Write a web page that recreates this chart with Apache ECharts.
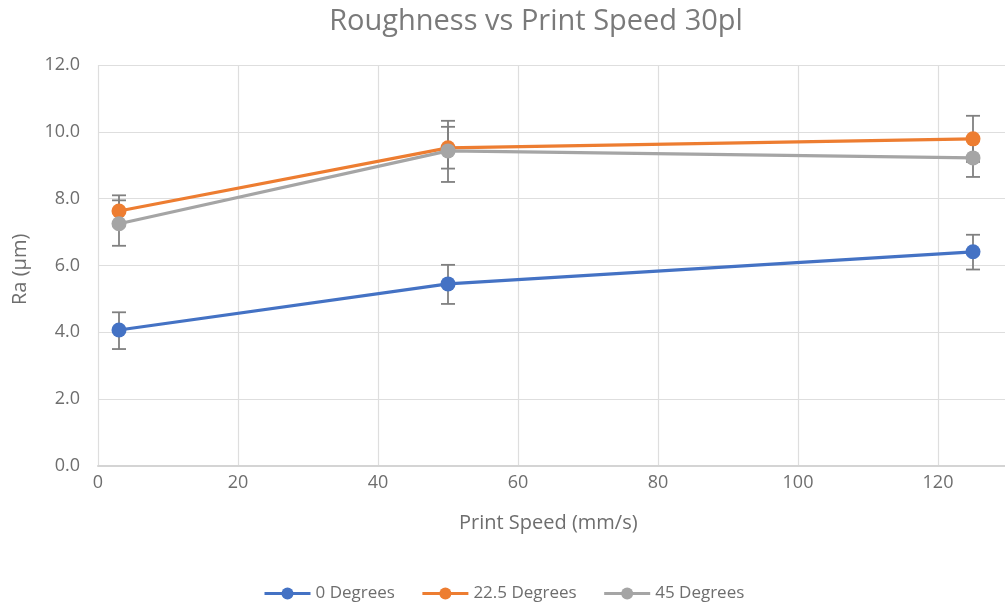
<!DOCTYPE html>
<html>
<head>
<meta charset="utf-8">
<script src="https://cdn.jsdelivr.net/npm/echarts@6/dist/echarts.min.js"></script>
<style>
  html, body { margin: 0; padding: 0; background: #ffffff; overflow: hidden; }
  #chart { width: 1082px; height: 606px; }
</style>
</head>
<body>
<div id="chart"></div>
<script>
// Print speeds (mm/s)
const speeds = [3, 50, 125];

// Mean roughness Ra (µm) per orientation
const ra0 = [4.07, 5.45, 6.41];
const ra225 = [7.63, 9.52, 9.79];
const ra45 = [7.25, 9.43, 9.22];

// Error bar bounds (µm)
const low0 = [3.50, 4.85, 5.88];
const high0 = [4.60, 6.02, 6.92];
const low225 = [7.20, 8.90, 9.10];
const high225 = [8.10, 10.33, 10.48];
const low45 = [6.59, 8.50, 8.65];
const high45 = [7.95, 10.15, 9.80];

const seriesNames = ['0 Degrees', '22.5 Degrees', '45 Degrees'];
const colors = ['#4472C4', '#ED7D31', '#A5A5A5'];

const xTicks = [0, 20, 40, 60, 80, 100, 120, 140];
const yTicks = [0, 2, 4, 6, 8, 10, 12];

const FONT = '"Open Sans", "Liberation Sans", sans-serif';
const TEXT = '#6e6e6e';

function pairs(ys) { return speeds.map((x, i) => [x, ys[i]]); }
function bars(lo, hi) { return speeds.map((x, i) => [x, lo[i], hi[i]]); }

function errorBarSeries(name, lo, hi) {
  return {
    type: 'custom',
    name: name + ' error',
    z: 1,
    silent: true,
    data: bars(lo, hi),
    encode: { x: 0, y: [1, 2] },
    renderItem: function (params, api) {
      const x = api.value(0);
      const pLo = api.coord([x, api.value(1)]);
      const pHi = api.coord([x, api.value(2)]);
      const cap = 7;
      const style = { stroke: '#808080', lineWidth: 1.8 };
      return {
        type: 'group',
        children: [
          { type: 'line', shape: { x1: pLo[0], y1: pLo[1], x2: pHi[0], y2: pHi[1] }, style: style },
          { type: 'line', shape: { x1: pLo[0] - cap, y1: pLo[1], x2: pLo[0] + cap, y2: pLo[1] }, style: style },
          { type: 'line', shape: { x1: pHi[0] - cap, y1: pHi[1], x2: pHi[0] + cap, y2: pHi[1] }, style: style }
        ]
      };
    }
  };
}

function lineSeries(idx, ys) {
  return {
    type: 'line',
    name: seriesNames[idx],
    z: 3 + idx,
    data: pairs(ys),
    symbol: 'circle',
    symbolSize: 15,
    lineStyle: { color: colors[idx], width: 3.2 },
    itemStyle: { color: colors[idx] }
  };
}

const chart = echarts.init(document.getElementById('chart'), null, { renderer: 'canvas' });

chart.setOption({
  animation: false,
  backgroundColor: '#ffffff',
  title: {
    text: 'Roughness vs Print Speed 30pl',
    left: 531,
    top: 2,
    textAlign: 'center',
    textStyle: { fontFamily: FONT, fontSize: 29, fontWeight: 'normal', color: '#7a7a7a' }
  },
  legend: {
    top: 580,
    left: 258,
    itemGap: 26,
    itemWidth: 46,
    itemHeight: 15,
    lineStyle: { width: 3 },
    data: seriesNames,
    textStyle: { fontFamily: FONT, fontSize: 17, color: TEXT }
  },
  grid: { left: 98, right: 4, top: 65, bottom: 140, outerBoundsMode: 'none', containLabel: false },
  xAxis: {
    type: 'value',
    min: xTicks[0],
    max: xTicks[xTicks.length - 1],
    interval: 20,
    axisLine: { show: true, lineStyle: { color: '#d4d4d4', width: 2 } },
    axisTick: { show: false },
    axisLabel: { fontFamily: FONT, fontSize: 18, color: TEXT, margin: 8, showMaxLabel: false },
    splitLine: { show: true, lineStyle: { color: '#dedede', width: 1.2 } }
  },
  yAxis: {
    type: 'value',
    min: yTicks[0],
    max: yTicks[yTicks.length - 1],
    interval: 2,
    axisLine: { show: false },
    axisTick: { show: false },
    axisLabel: {
      fontFamily: FONT, fontSize: 18, color: TEXT, margin: 18,
      formatter: v => v.toFixed(1)
    },
    splitLine: { show: true, lineStyle: { color: '#dedede', width: 1.2 } }
  },
  graphic: [
    {
      type: 'text',
      left: 459,
      top: 513,
      style: { text: 'Print Speed (mm/s)', fontFamily: FONT, fontSize: 20, fill: TEXT }
    },
    {
      type: 'text',
      x: 10,
      y: 305,
      rotation: Math.PI / 2,
      style: { text: 'Ra (µm)', fontFamily: FONT, fontSize: 20, fill: TEXT }
    }
  ],
  series: [
    errorBarSeries(seriesNames[0], low0, high0),
    errorBarSeries(seriesNames[1], low225, high225),
    errorBarSeries(seriesNames[2], low45, high45),
    lineSeries(0, ra0),
    lineSeries(1, ra225),
    lineSeries(2, ra45)
  ]
});
</script>
</body>
</html>
